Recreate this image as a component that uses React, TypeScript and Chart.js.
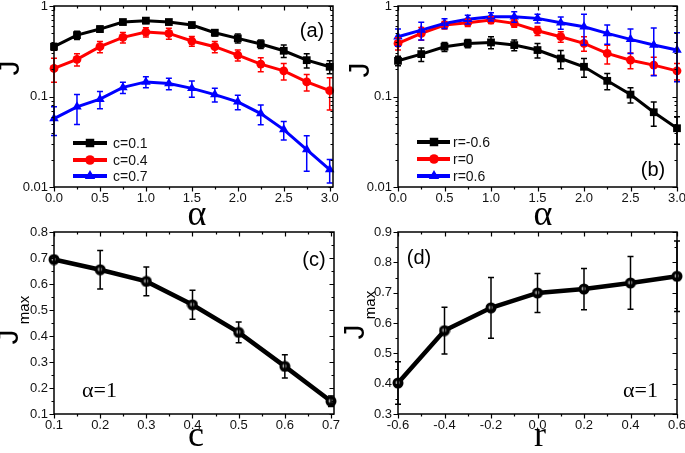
import React, { useEffect, useRef } from "react";
import { Chart, registerables } from "chart.js";
Chart.register(...registerables);

// ---------- data ----------
const alphaValues = [0, 0.25, 0.5, 0.75, 1, 1.25, 1.5, 1.75, 2, 2.25, 2.5, 2.75, 3];

// panel (a)
const jC01 = [0.355, 0.477, 0.556, 0.665, 0.689, 0.665, 0.616, 0.507, 0.439, 0.38, 0.32, 0.252, 0.213];
const jC01Err = [0.03, 0.05, 0.04, 0.04, 0.05, 0.04, 0.04, 0.04, 0.05, 0.04, 0.05, 0.045, 0.035];
const jC04 = [0.204, 0.257, 0.355, 0.45, 0.515, 0.498, 0.41, 0.355, 0.287, 0.228, 0.192, 0.145, 0.116];
const jC04Err = [0.06, 0.04, 0.05, 0.06, 0.06, 0.07, 0.05, 0.05, 0.04, 0.04, 0.04, 0.03, 0.045];
const jC07 = [0.057, 0.0769, 0.0934, 0.126, 0.145, 0.139, 0.123, 0.105, 0.0873, 0.0648, 0.0431, 0.0259, 0.0156];
const jC07Err = [0.02, 0.028, 0.02, 0.018, 0.02, 0.02, 0.025, 0.018, 0.016, 0.016, 0.01, 0.011, 0.0045];

// panel (b)
const jRm06 = [0.248, 0.294, 0.355, 0.386, 0.396, 0.37, 0.326, 0.263, 0.213, 0.149, 0.105, 0.067, 0.0446];
const jRm06Err = [0.03, 0.05, 0.04, 0.04, 0.06, 0.05, 0.06, 0.06, 0.05, 0.03, 0.02, 0.02, 0.015];
const jR0 = [0.386, 0.498, 0.616, 0.654, 0.7, 0.643, 0.533, 0.458, 0.386, 0.299, 0.252, 0.222, 0.192];
const jR0Err = [0.06, 0.08, 0.06, 0.06, 0.06, 0.06, 0.06, 0.06, 0.07, 0.07, 0.05, 0.05, 0.04];
const jR06 = [0.458, 0.542, 0.643, 0.712, 0.762, 0.762, 0.73, 0.654, 0.59, 0.498, 0.428, 0.37, 0.326];
const jR06Err = [0.1, 0.12, 0.08, 0.08, 0.08, 0.1, 0.08, 0.1, 0.22, 0.12, 0.13, 0.2, 0.18];

// panel (c)
const cValues = [0.1, 0.2, 0.3, 0.4, 0.5, 0.6, 0.7];
const jMaxC = [0.694, 0.655, 0.61, 0.52, 0.414, 0.283, 0.149];
const jMaxCErr = [0.01, 0.074, 0.055, 0.056, 0.04, 0.045, 0.02];

// panel (d)
const rValues = [-0.6, -0.4, -0.2, 0, 0.2, 0.4, 0.6];
const jMaxR = [0.402, 0.575, 0.65, 0.699, 0.712, 0.732, 0.754];
const jMaxRErr = [0.07, 0.077, 0.1, 0.064, 0.068, 0.087, 0.116];

// ticks
const alphaMajor = [0, 0.5, 1, 1.5, 2, 2.5, 3];
const alphaMinor = [0.25, 0.75, 1.25, 1.75, 2.25, 2.75];
const logMajor = [0.01, 0.1, 1];
const logMinor = [0.02, 0.03, 0.04, 0.05, 0.06, 0.07, 0.08, 0.09, 0.2, 0.3, 0.4, 0.5, 0.6, 0.7, 0.8, 0.9];
const cMajor = [0.1, 0.2, 0.3, 0.4, 0.5, 0.6, 0.7];
const cMinor = [0.15, 0.25, 0.35, 0.45, 0.55, 0.65];
const jcMajor = [0.1, 0.2, 0.3, 0.4, 0.5, 0.6, 0.7, 0.8];
const jcMinor = [0.15, 0.25, 0.35, 0.45, 0.55, 0.65, 0.75];
const rMajor = [-0.6, -0.4, -0.2, 0, 0.2, 0.4, 0.6];
const rMinor = [-0.5, -0.3, -0.1, 0.1, 0.3, 0.5];
const jrMajor = [0.3, 0.4, 0.5, 0.6, 0.7, 0.8, 0.9];
const jrMinor = [0.35, 0.45, 0.55, 0.65, 0.75, 0.85];

// ---------- types ----------
type Series = { label: string; data: number[]; err: number[]; color: string; marker: string };
type TextItem = { text: string; x: number; y: number; font: string; rotate?: boolean; align?: CanvasTextAlign; baseline?: CanvasTextBaseline };
type PanelSpec = {
  x: number; y: number; w: number; h: number;
  area: { left: number; top: number; right: number; bottom: number };
  xs: number[]; xMin: number; xMax: number; xMajor: number[]; xMinor: number[]; xFmt: (v: number) => string;
  yLog: boolean; yMin: number; yMax: number; yMajor: number[]; yMinor: number[]; yFmt: (v: number) => string;
  series: Series[]; lineWidth: number; pointRadius: number;
  legend?: { x1: number; x2: number; mx: number; tx: number; ys: number[] };
  texts: TextItem[];
};

const SANS = '"Liberation Sans", Arial, sans-serif';
const SERIF = '"Liberation Serif", "Times New Roman", serif';
const fmt1 = (v: number) => v.toFixed(1);
const fmtLog = (v: number) => (v >= 1 ? "1" : v >= 0.1 ? "0.1" : "0.01");

function drawMarker(ctx: CanvasRenderingContext2D, style: string, x: number, y: number, r: number, color: string) {
  ctx.save();
  ctx.fillStyle = color;
  ctx.beginPath();
  if (style === "rect") {
    const s = r * Math.SQRT1_2;
    ctx.rect(x - s, y - s, 2 * s, 2 * s);
  } else if (style === "circle") {
    ctx.arc(x, y, r * 0.8, 0, Math.PI * 2);
  } else if (style === "triangle") {
    ctx.moveTo(x, y - r);
    ctx.lineTo(x + r * Math.sin((2 * Math.PI) / 3), y - r * Math.cos((2 * Math.PI) / 3));
    ctx.lineTo(x + r * Math.sin((4 * Math.PI) / 3), y - r * Math.cos((4 * Math.PI) / 3));
    ctx.closePath();
  }
  ctx.fill();
  ctx.restore();
}

function makeSphere(): HTMLCanvasElement {
  const c = document.createElement("canvas");
  c.width = 12;
  c.height = 12;
  const g = c.getContext("2d")!;
  g.beginPath();
  g.arc(6, 6, 5.5, 0, Math.PI * 2);
  g.fillStyle = "#000";
  g.fill();
  const grad = g.createRadialGradient(5.6, 5.6, 0, 5.6, 5.6, 3.2);
  grad.addColorStop(0, "#e0e0e0");
  grad.addColorStop(0.45, "#999");
  grad.addColorStop(1, "rgba(0,0,0,0)");
  g.beginPath();
  g.arc(5.6, 5.6, 3.2, 0, Math.PI * 2);
  g.fillStyle = grad;
  g.fill();
  return c;
}

const specs: PanelSpec[] = [
  {
    x: 0, y: 0, w: 340, h: 226,
    area: { left: 54, top: 6, right: 333, bottom: 187 },
    xs: alphaValues, xMin: 0, xMax: 3.036, xMajor: alphaMajor, xMinor: alphaMinor, xFmt: fmt1,
    yLog: true, yMin: 0.01, yMax: 1, yMajor: logMajor, yMinor: logMinor, yFmt: fmtLog,
    series: [
      { label: "c=0.1", data: jC01, err: jC01Err, color: "#000000", marker: "rect" },
      { label: "c=0.4", data: jC04, err: jC04Err, color: "#ff0000", marker: "circle" },
      { label: "c=0.7", data: jC07, err: jC07Err, color: "#0000ff", marker: "triangle" },
    ],
    lineWidth: 3, pointRadius: 5.5,
    legend: { x1: 73, x2: 107, mx: 90, tx: 113, ys: [143, 160, 176] },
    texts: [
      { text: "J", x: 11, y: 68, font: `30px ${SANS}`, rotate: true },
      { text: "α", x: 197, y: 216, font: `36px ${SERIF}` },
      { text: "(a)", x: 312, y: 31, font: `20px ${SANS}` },
    ],
  },
  {
    x: 340, y: 0, w: 345, h: 226,
    area: { left: 58, top: 6, right: 337, bottom: 187 },
    xs: alphaValues, xMin: 0, xMax: 3, xMajor: alphaMajor, xMinor: alphaMinor, xFmt: fmt1,
    yLog: true, yMin: 0.01, yMax: 1, yMajor: logMajor, yMinor: logMinor, yFmt: fmtLog,
    series: [
      { label: "r=-0.6", data: jRm06, err: jRm06Err, color: "#000000", marker: "rect" },
      { label: "r=0", data: jR0, err: jR0Err, color: "#ff0000", marker: "circle" },
      { label: "r=0.6", data: jR06, err: jR06Err, color: "#0000ff", marker: "triangle" },
    ],
    lineWidth: 3, pointRadius: 5.5,
    legend: { x1: 77, x2: 110, mx: 94, tx: 113, ys: [142, 159, 176] },
    texts: [
      { text: "J", x: 21, y: 70, font: `30px ${SANS}`, rotate: true },
      { text: "α", x: 203, y: 216, font: `36px ${SERIF}` },
      { text: "(b)", x: 313, y: 170, font: `20px ${SANS}` },
    ],
  },
  {
    x: 0, y: 226, w: 340, h: 227,
    area: { left: 54, top: 6, right: 334, bottom: 188 },
    xs: cValues, xMin: 0.1, xMax: 0.7065, xMajor: cMajor, xMinor: cMinor, xFmt: fmt1,
    yLog: false, yMin: 0.1, yMax: 0.8, yMajor: jcMajor, yMinor: jcMinor, yFmt: fmt1,
    series: [{ label: "Jmax", data: jMaxC, err: jMaxCErr, color: "#000000", marker: "sphere" }],
    lineWidth: 4.5, pointRadius: 6,
    texts: [
      { text: "J", x: 10, y: 111, font: `30px ${SANS}`, rotate: true },
      { text: "max", x: 25, y: 84, font: `15px ${SANS}`, rotate: true },
      { text: "c", x: 196, y: 211, font: `36px ${SERIF}` },
      { text: "(c)", x: 314, y: 34, font: `20px ${SANS}` },
      { text: "α=1", x: 82, y: 171, font: `22px ${SERIF}`, align: "left", baseline: "alphabetic" },
    ],
  },
  {
    x: 340, y: 226, w: 345, h: 227,
    area: { left: 58, top: 6, right: 337, bottom: 188 },
    xs: rValues, xMin: -0.6, xMax: 0.6, xMajor: rMajor, xMinor: rMinor, xFmt: fmt1,
    yLog: false, yMin: 0.3, yMax: 0.9, yMajor: jrMajor, yMinor: jrMinor, yFmt: fmt1,
    series: [{ label: "Jmax", data: jMaxR, err: jMaxRErr, color: "#000000", marker: "sphere" }],
    lineWidth: 4.5, pointRadius: 6,
    texts: [
      { text: "J", x: 16, y: 106, font: `30px ${SANS}`, rotate: true },
      { text: "max", x: 31, y: 79, font: `15px ${SANS}`, rotate: true },
      { text: "r", x: 200, y: 211, font: `36px ${SERIF}` },
      { text: "(d)", x: 79, y: 32, font: `20px ${SANS}` },
      { text: "α=1", x: 283, y: 171, font: `22px ${SERIF}`, align: "left", baseline: "alphabetic" },
    ],
  },
];

function Panel({ spec }: { spec: PanelSpec }) {
  const ref = useRef<HTMLCanvasElement>(null);
  useEffect(() => {
    const canvas = ref.current!;
    const sphere = makeSphere();
    const a = spec.area;

    const decor = {
      id: "decor" + spec.x + "_" + spec.y,
      afterDatasetsDraw(chart: any) {
        const ctx: CanvasRenderingContext2D = chart.ctx;
        const xs = chart.scales.x;
        const ys = chart.scales.y;
        // error bars
        ctx.save();
        spec.series.forEach((s) => {
          ctx.strokeStyle = s.color;
          ctx.lineWidth = 1.5;
          s.data.forEach((v, i) => {
            const px = xs.getPixelForValue(spec.xs[i]);
            const e = s.err[i];
            const yt = ys.getPixelForValue(v + e);
            const yb = ys.getPixelForValue(Math.max(v - e, spec.yLog ? 1e-4 : -10));
            ctx.beginPath();
            ctx.moveTo(px, yt);
            ctx.lineTo(px, yb);
            ctx.moveTo(px - 3, yt);
            ctx.lineTo(px + 3, yt);
            ctx.moveTo(px - 3, yb);
            ctx.lineTo(px + 3, yb);
            ctx.stroke();
          });
        });
        ctx.restore();
      },
      afterDraw(chart: any) {
        const ctx: CanvasRenderingContext2D = chart.ctx;
        const xs = chart.scales.x;
        const ys = chart.scales.y;
        const ca = chart.chartArea;
        ctx.save();
        // frame
        ctx.strokeStyle = "#000";
        ctx.lineWidth = 1.5;
        ctx.strokeRect(ca.left, ca.top, ca.right - ca.left, ca.bottom - ca.top);
        // ticks
        ctx.lineWidth = 1.2;
        ctx.beginPath();
        const xt = (vals: number[], len: number) => {
          vals.forEach((v) => {
            const px = Math.round(xs.getPixelForValue(v)) + 0.5;
            ctx.moveTo(px, ca.bottom);
            ctx.lineTo(px, ca.bottom + len);
            ctx.moveTo(px, ca.top);
            ctx.lineTo(px, ca.top + len);
          });
        };
        const yt = (vals: number[], len: number) => {
          vals.forEach((v) => {
            const py = Math.round(ys.getPixelForValue(v)) + 0.5;
            ctx.moveTo(ca.left, py);
            ctx.lineTo(ca.left - len, py);
            ctx.moveTo(ca.right, py);
            ctx.lineTo(ca.right - len, py);
          });
        };
        xt(spec.xMajor, 4.5);
        xt(spec.xMinor, 2.5);
        yt(spec.yMajor, 4.5);
        yt(spec.yMinor, 2.5);
        ctx.stroke();
        // tick labels
        ctx.fillStyle = "#111";
        ctx.font = `13px ${SANS}`;
        ctx.textAlign = "center";
        ctx.textBaseline = "top";
        spec.xMajor.forEach((v) => {
          ctx.fillText(spec.xFmt(v), xs.getPixelForValue(v), ca.bottom + 5);
        });
        ctx.textAlign = "right";
        ctx.textBaseline = "middle";
        spec.yMajor.forEach((v) => {
          ctx.fillText(spec.yFmt(v), ca.left - 6, ys.getPixelForValue(v));
        });
        // legend
        if (spec.legend) {
          const L = spec.legend;
          spec.series.forEach((s, i) => {
            const y = L.ys[i];
            ctx.strokeStyle = s.color;
            ctx.lineWidth = 4;
            ctx.beginPath();
            ctx.moveTo(L.x1, y);
            ctx.lineTo(L.x2, y);
            ctx.stroke();
            drawMarker(ctx, s.marker, L.mx, y, 6, s.color);
            ctx.fillStyle = "#111";
            ctx.font = `14px ${SANS}`;
            ctx.textAlign = "left";
            ctx.textBaseline = "middle";
            ctx.fillText(s.label, L.tx, y + 1);
          });
        }
        // texts
        spec.texts.forEach((t) => {
          ctx.save();
          ctx.fillStyle = "#000";
          ctx.font = t.font;
          ctx.textAlign = t.align || "center";
          ctx.textBaseline = t.baseline || "middle";
          ctx.translate(t.x, t.y);
          if (t.rotate) ctx.rotate(-Math.PI / 2);
          ctx.fillText(t.text, 0, 0);
          ctx.restore();
        });
        ctx.restore();
      },
    };

    const n = spec.series.length;
    const chart = new Chart(canvas, {
      type: "line",
      data: {
        datasets: spec.series.map((s, i) => ({
          label: s.label,
          data: s.data.map((v, j) => ({ x: spec.xs[j], y: v })),
          borderColor: s.color,
          backgroundColor: s.color,
          borderWidth: spec.lineWidth,
          pointStyle: s.marker === "sphere" ? (sphere as any) : (s.marker as any),
          pointRadius: s.marker === "circle" ? spec.pointRadius * 0.8 : spec.pointRadius,
          pointBorderWidth: 0,
          pointBackgroundColor: s.color,
          tension: 0,
          clip: false as any,
          order: n - i,
        })),
      },
      options: {
        responsive: false,
        animation: false,
        events: [],
        layout: {
          padding: { left: a.left, top: a.top, right: spec.w - a.right, bottom: spec.h - a.bottom },
        },
        plugins: { legend: { display: false }, tooltip: { enabled: false } },
        scales: {
          x: { type: "linear", display: false, min: spec.xMin, max: spec.xMax },
          y: { type: spec.yLog ? "logarithmic" : "linear", display: false, min: spec.yMin, max: spec.yMax },
        },
      },
      plugins: [decor],
    } as any);
    return () => chart.destroy();
  }, [spec]);
  return (
    <canvas
      ref={ref}
      width={spec.w}
      height={spec.h}
      style={{ position: "absolute", left: spec.x, top: spec.y, width: spec.w, height: spec.h }}
    />
  );
}

export default function App() {
  return (
    <div style={{ position: "absolute", left: 0, top: 0, width: 685, height: 453, background: "#fff" }}>
      {specs.map((s, i) => (
        <Panel key={i} spec={s} />
      ))}
    </div>
  );
}
